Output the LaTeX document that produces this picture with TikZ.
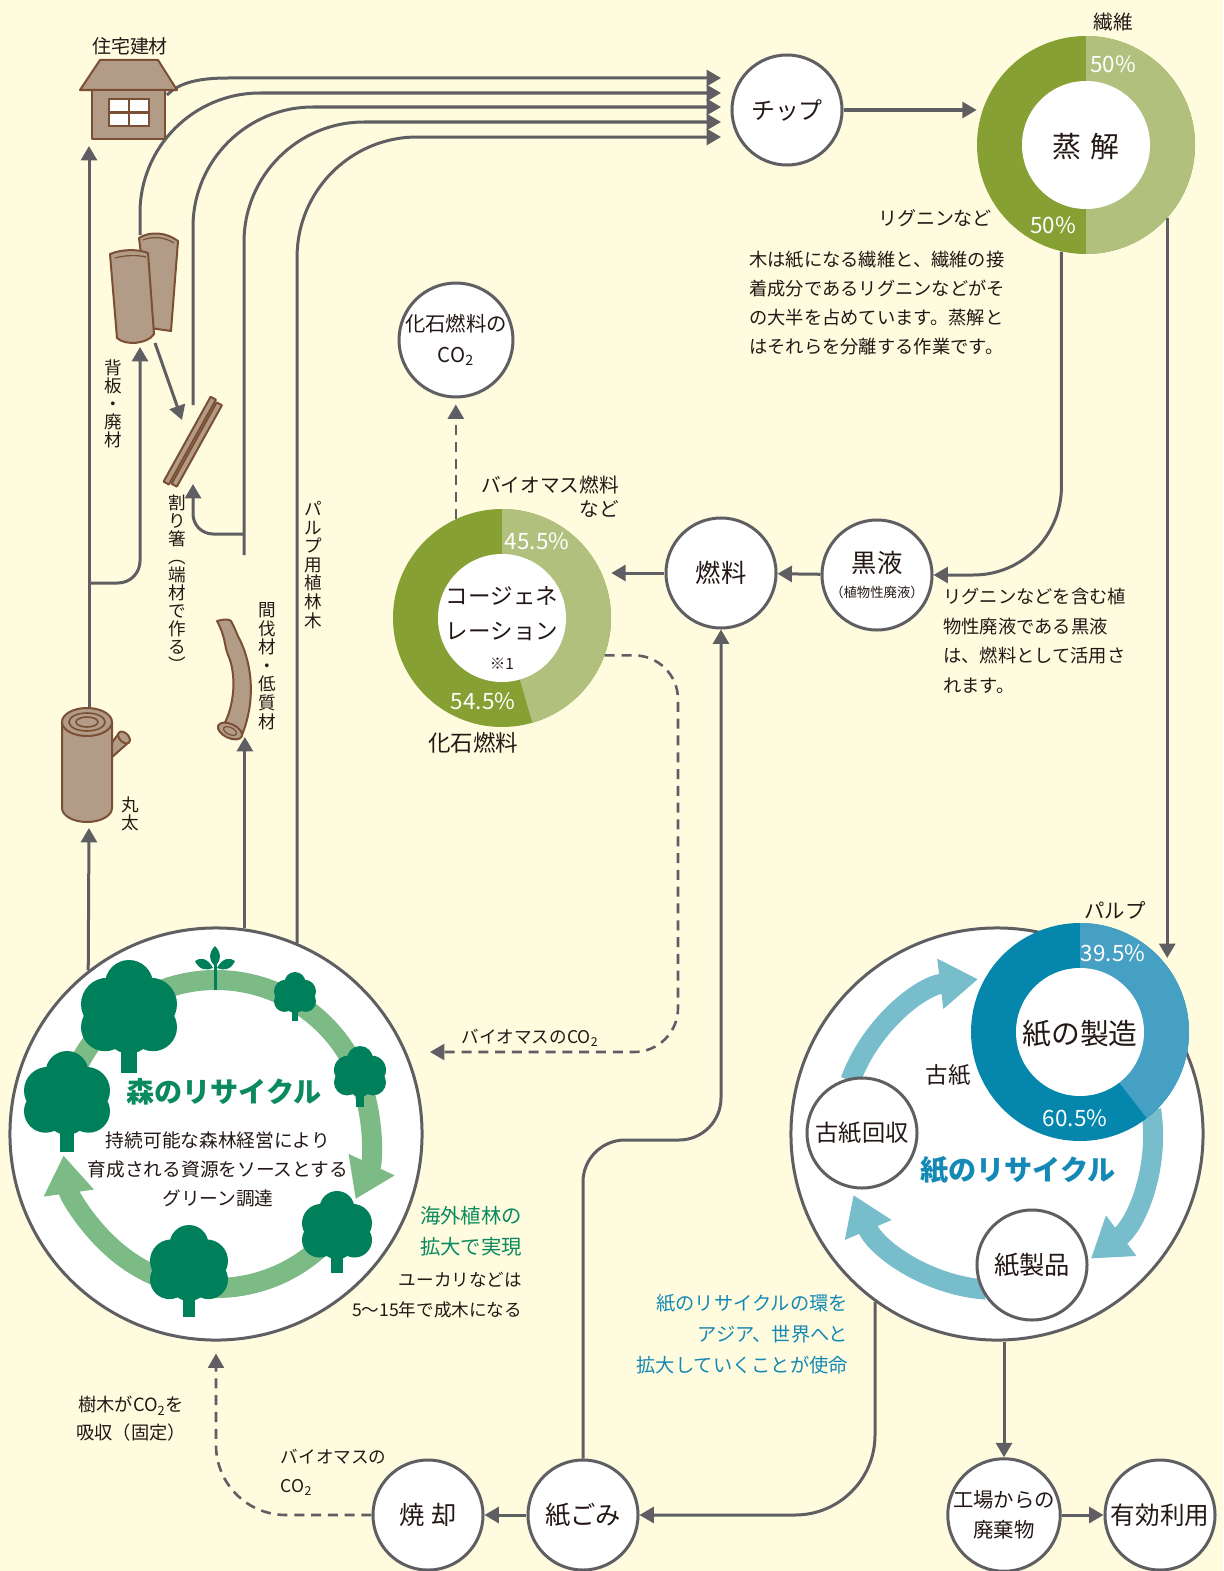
\documentclass[tikz,border=0pt]{standalone}
\usepackage{fontspec}
\setmainfont{Noto Sans CJK JP}
\usepackage{tikz}
\usetikzlibrary{arrows.meta,positioning,calc}
\usepackage{xcolor}

\definecolor{bg}{HTML}{FEFBDF}
\definecolor{ink}{HTML}{231815}
\definecolor{wire}{HTML}{5F5F63}
\definecolor{oliveD}{HTML}{86A033}
\definecolor{oliveL}{HTML}{B1C17D}
\definecolor{blueD}{HTML}{0486AD}
\definecolor{blueL}{HTML}{46A0C4}
\definecolor{blueR}{HTML}{77BDCC}
\definecolor{blueT}{HTML}{1589B5}
\definecolor{leaf}{HTML}{00805A}
\definecolor{leafR}{HTML}{7CBA86}
\definecolor{leafT}{HTML}{0C8A5F}
\definecolor{wood}{HTML}{B29C88}
\definecolor{bark}{HTML}{7A4F33}

\newcommand{\sz}[2]{\fontsize{#1}{#2}\selectfont}

% ドーナツグラフ（中心, 濃色, 淡色, 淡色の終了角）
\newcommand{\donut}[4]{%
  \fill[#2] (#1) circle (109);
  \fill[#3] (#1) -- ++(-90:109) arc[start angle=-90, end angle=#4, radius=109] -- cycle;
  \fill[white] (#1) circle (64);
}

% 木のアイコン
\newcommand{\treeicon}[3]{%
  \begin{scope}[shift={(#1,#2)}, scale=#3]
    \fill[leaf] (-0.16,0.4) rectangle (0.16,1.35);
    \fill[leaf] (0,-0.5) circle (0.5) (-0.45,-0.08) circle (0.55) (0.45,-0.08) circle (0.55)
      (-0.5,0.4) circle (0.5) (0.5,0.4) circle (0.5) (0,0.45) circle (0.5) (0,0.05) circle (0.6);
  \end{scope}}

\tikzset{
  link/.style={draw=wire, line width=0.075cm},
  flow/.style={link, -{Triangle[length=0.36cm,width=0.4cm]}},
  gas/.style={flow, dash pattern=on 0.25cm off 0.17cm, line width=0.065cm},
  stage/.style={circle, draw=wire, line width=0.075cm, fill=white, minimum size=2.75cm,
    inner sep=0pt, align=center, font=\sz{18}{22}},
  hub/.style={circle, minimum size=5.45cm, inner sep=0pt},
  pct/.style={text=white, font=\sz{16}{16}},
  note/.style={font=\sz{13}{20.6}, inner sep=0pt},
  tate/.style={font=\sz{12.5}{12.8}, align=center, inner sep=0pt},
  woodpart/.style={fill=wood, draw=bark, line width=0.05cm, line join=round},
  leafring/.style={draw=leafR, line width=0.5cm, -{Triangle[length=0.95cm,width=1.2cm]}},
  paperring/.style={draw=blueR, line width=0.5cm, -{Triangle[length=0.95cm,width=1.2cm]}}
}

\begin{document}
\begin{tikzpicture}[x=0.025cm, y=-0.025cm, text=ink]
\fill[bg] (0,0) rectangle (1223,1571);
\useasboundingbox (0,0) rectangle (1223,1571);

% 森のリサイクル
\node[stage, minimum size=10.3cm] (forest) at (216,1134) {};
\draw[leafring] ($(forest)+(-170:154)$) arc[start angle=-170, end angle=25, radius=154];
\draw[leafring] ($(forest)+(37:154)$) arc[start angle=37, end angle=172, radius=154];
\treeicon{129}{1008}{48}
\treeicon{67}{1094}{43}
\treeicon{295}{993}{21}
\treeicon{360}{1072}{26}
\treeicon{337}{1226}{35}
\treeicon{189}{1264}{39}
% 若芽
\fill[leaf] (213.5,962) rectangle (216.5,990);
\fill[leaf] (215,966) .. controls (208,960) and (209,952) .. (215,946) .. controls (221,952) and (222,960) .. (215,966);
\fill[leaf] (213,968) .. controls (208,958) and (200,957) .. (195,961) .. controls (199,970) and (207,971) .. (213,968);
\fill[leaf] (217,968) .. controls (222,958) and (230,957) .. (235,961) .. controls (231,970) and (223,971) .. (217,968);
\node[font=\bfseries\sz{20}{20}, text=leafT] at (224,1092) {森のリサイクル};
\node[font=\sz{13.3}{20.6}, align=center] at (218,1169) {持続可能な森林経営により\\育成される資源をソースとする\\グリーン調達};

% 紙のリサイクル
\node[stage, minimum size=10.3cm] (paper) at (997,1134) {};
\draw[paperring] ($(paper)+(-160:156)$) arc[start angle=-160, end angle=-97, radius=156];
\draw[paperring] ($(paper)+(-9:156)$) arc[start angle=-9, end angle=53, radius=156];
\draw[paperring] ($(paper)+(94:156)$) arc[start angle=94, end angle=157, radius=156];
\coordinate (seizoc) at (1080,1032);
\donut{seizoc}{blueD}{blueL}{52.2}
\node[hub] (seizo) at (seizoc) {};
\node[font=\sz{20.5}{20}] at (1080,1034) {紙の製造};
\node[pct] at (1113,953) {39.5\%};
\node[pct] at (1075,1118) {60.5\%};
\node[font=\sz{14.5}{15}] at (1115,910) {パルプ};
\node[font=\sz{16}{16}] at (948,1075) {古紙};
\node[stage, font=\sz{16.5}{20}] (koshi) at (862,1133) {古紙回収};
\node[stage] (seihin) at (1032,1265) {紙製品};
\node[font=\bfseries\sz{20}{20}, text=blueT] at (1018,1170) {紙のリサイクル};

% 蒸解
\coordinate (steamc) at (1086,145);
\donut{steamc}{oliveD}{oliveL}{90}
\node[hub] (steam) at (steamc) {};
\node[font=\sz{20.5}{20}] at (1086,147) {蒸\hspace{0.3em}解};
\node[pct] at (1113,64) {50\%};
\node[pct] at (1053,225) {50\%};
\node[font=\sz{14}{14}] at (1113,22) {繊維};
\node[font=\sz{13.5}{14}] at (935,218) {リグニンなど};
\node[note, anchor=north west, align=left] at (749,251)
  {木は紙になる繊維と、繊維の接\\着成分であるリグニンなどがそ\\の大半を占めています。蒸解と\\はそれらを分離する作業です。};

% コージェネレーション
\coordinate (cogenc) at (502,618);
\donut{cogenc}{oliveD}{oliveL}{73.8}
\node[hub] (cogen) at (cogenc) {};
\node[align=center, font=\sz{16}{25}] at (502,628) {コージェネ\\レーション\\[-4pt]{\sz{11}{12}※1}};
\node[pct] at (537,541) {45.5\%};
\node[pct] at (483,701) {54.5\%};
\node[font=\sz{14}{17}, align=right, anchor=north east] at (624,471) {バイオマス燃料\\など};
\node[font=\sz{16}{16}] at (473,743) {化石燃料};

% 各工程
\node[stage, font=\sz{17}{20}] (chip) at (787,110) {チップ};
\node[stage, font=\sz{14.5}{22}] (fossil) at (456,340) {化石燃料の\\CO\textsubscript{2}};
\node[stage] (nenryo) at (721,573) {燃料};
\node[stage] (kokueki) at (877,575) {黒液\\[-4pt]{\sz{9.5}{10}（植物性廃液）}};
\node[note, anchor=north west, align=left, font=\sz{13}{21}] at (943,588)
  {リグニンなどを含む植\\物性廃液である黒液\\は、燃料として活用さ\\れます。};
\node[stage] (shokyaku) at (428,1515) {焼\hspace{0.25em}却};
\node[stage] (gomi) at (583,1515) {紙ごみ};
\node[stage, font=\sz{14.5}{21}] (haiki) at (1004,1515) {工場からの\\廃棄物};
\node[stage, font=\sz{17.5}{20}] (riyo) at (1160,1515) {有効利用};

% 木材の流れ
\coordinate (in1) at (721,78);
\coordinate (in2) at (721,93);
\coordinate (in3) at (721,107);
\coordinate (in4) at (721,122);
\coordinate (in5) at (721,137);
\coordinate (houseR) at (167,95);
\coordinate (houseB) at (89,146);
\coordinate (logT) at (89,707);
\coordinate (logB) at (89,828);
\coordinate (fork) at (89,583);
\coordinate (boardsB) at (140,347);
\coordinate (boardsT) at (140,235);
\coordinate (boardsR) at (155,343);
\coordinate (chopL) at (182,420);
\coordinate (chopB) at (193,484);
\coordinate (chopT) at (193,405);
\coordinate (thinB) at (244,737);
\coordinate (thinT) at (244,555);
\coordinate (thinF) at (244,534);

\draw[flow] (forest.128) -- (logB);
\draw[flow] (logT) -- (houseB);
\draw[flow, rounded corners=0.55cm] (fork) -| (boardsB);
\draw[flow] (boardsR) -- (chopL);
\draw[flow] (forest.82) -- (forest.82 |- thinB);
\draw[flow, rounded corners=0.5cm] (thinF) -| (chopB);
\draw[flow] (houseR) .. controls (178,84) and (195,78) .. (228,78) -- (in1);
\draw[flow, rounded corners=3cm] (boardsT) |- (in2);
\draw[flow, rounded corners=3cm] (chopT) |- (in3);
\draw[flow, rounded corners=3cm] (thinT) |- (in4);
\draw[flow, rounded corners=3cm] (forest.67) |- (in5);
\node[font=\sz{13.5}{14}] at (130,46) {住宅建材};
\node[tate] at (113,404) {背\\板\\・\\廃\\材};
\node[tate] at (177,583) {割\\り\\箸\\︵\\端\\材\\で\\作\\る\\︶};
\node[tate, font=\sz{12.5}{13.2}] at (267,666) {間\\伐\\材\\・\\低\\質\\材};
\node[tate, font=\sz{12.5}{13.2}] at (313,565) {パ\\ル\\プ\\用\\植\\林\\木};
\node[tate] at (130,814) {丸\\太};

% 住宅
\draw[woodpart] (100,60) -- (158,60) -- (177,90) -- (80,90) -- cycle;
\draw[woodpart] (92,90) rectangle (165,139);
\draw[bark, fill=white, line width=0.05cm] (109,99) rectangle (149,126);
\draw[bark, line width=0.05cm] (129,99) -- (129,126) (109,112.5) -- (149,112.5);

% 背板
\draw[woodpart] (139,238) .. controls (150,231) and (166,232) .. (178,241) -- (171,331) -- (150,328) -- cycle;
\draw[woodpart] (110,254) .. controls (122,249) and (138,249) .. (148,253) -- (154,334) .. controls (148,344) and (125,346) .. (117,338) -- cycle;
\draw[bark, line width=0.03cm] (115,258) .. controls (125,255) and (138,255) .. (146,257);
\draw[bark, line width=0.03cm] (143,240) .. controls (152,236) and (165,237) .. (174,243);

% 割り箸
\begin{scope}[shift={(193,443)}, rotate=61]
  \draw[woodpart] (-48,-7) rectangle (49,-1);
  \draw[woodpart] (-46,1) rectangle (47,7);
\end{scope}

% 間伐材
\draw[woodpart] (217,621) .. controls (224,619) and (229,619) .. (231,621)
  .. controls (236,630) and (236,633) .. (240,640)
  .. controls (252,665) and (256,700) .. (242,735) -- (222,728)
  .. controls (236,705) and (236,672) .. (228,655)
  .. controls (224,645) and (226,638) .. (217,621) -- cycle;
\draw[woodpart, rotate around={-25:(230,731)}] (230,731) ellipse [x radius=13, y radius=7];
\draw[bark, line width=0.03cm, rotate around={-25:(230,731)}] (230,731) ellipse [x radius=7, y radius=3.5];

% 丸太
\draw[woodpart] (111,744) -- (119,733) -- (129,742) -- (111,758);
\draw[woodpart, rotate around={-45:(124,737.5)}] (124,737.5) ellipse [x radius=7, y radius=4.5];
\draw[woodpart] (62,722) -- (62,808) arc[start angle=180, end angle=0, x radius=25, y radius=14] -- (112,722);
\draw[woodpart] (87,722) ellipse [x radius=25, y radius=14];
\draw[bark, line width=0.04cm] (87,722) ellipse [x radius=18, y radius=9] (87,722) ellipse [x radius=11, y radius=5];

% 蒸解から先
\coordinate (pulpIn) at (1168,958);
\draw[flow] (chip) -- (chip -| steam.west);
\draw[flow, rounded corners=2.2cm] (steam.257) |- (kokueki);
\draw[flow] (steam.-42) -- (steam.-42 |- pulpIn);
\draw[flow] (kokueki) -- (nenryo);
\draw[flow] (nenryo) -- (nenryo -| cogen.east);
\draw[gas, shorten >=0.15cm] (cogen.115) -- (cogen.115 |- fossil.south);
\coordinate (co2bend) at (678,1052);
\coordinate (co2tip) at (430,1052);
\draw[gas, rounded corners=1.1cm] (cogen.-20) -| (co2bend) -- (co2tip);
\node[font=\sz{12.5}{13}] at (530,1038) {バイオマスのCO\textsubscript{2}};

% 紙ごみの流れ
\coordinate (cross) at (721,1140);
\draw[flow, rounded corners=1.05cm] (gomi) |- (cross) -- (nenryo);
\draw[flow, rounded corners=2cm] (paper.-126.7) |- (gomi);
\draw[flow] (gomi) -- (shokyaku);
\draw[gas, rounded corners=1.75cm, shorten >=0.3cm] (shokyaku) -| (forest.south);
\draw[flow] (paper.south -| haiki) -- (haiki);
\draw[flow] (haiki) -- (riyo);

% 注記
\node[font=\sz{14.5}{22}, text=leafT, align=right, anchor=east] at (527,1231) {海外植林の\\拡大で実現};
\node[font=\sz{12.5}{21}, align=right, anchor=east] at (527,1295) {ユーカリなどは\\5〜15年で成木になる};
\node[font=\sz{13}{20}, align=center] at (131,1419) {樹木がCO\textsubscript{2}を\\吸収（固定）};
\node[font=\sz{12.5}{20.5}, align=left, anchor=west] at (276,1472) {バイオマスの\\CO\textsubscript{2}};
\node[font=\sz{13.7}{22}, text=blueT, align=right, anchor=east] at (853,1334) {紙のリサイクルの環を\\アジア、世界へと\\拡大していくことが使命};
\end{tikzpicture}
\end{document}
